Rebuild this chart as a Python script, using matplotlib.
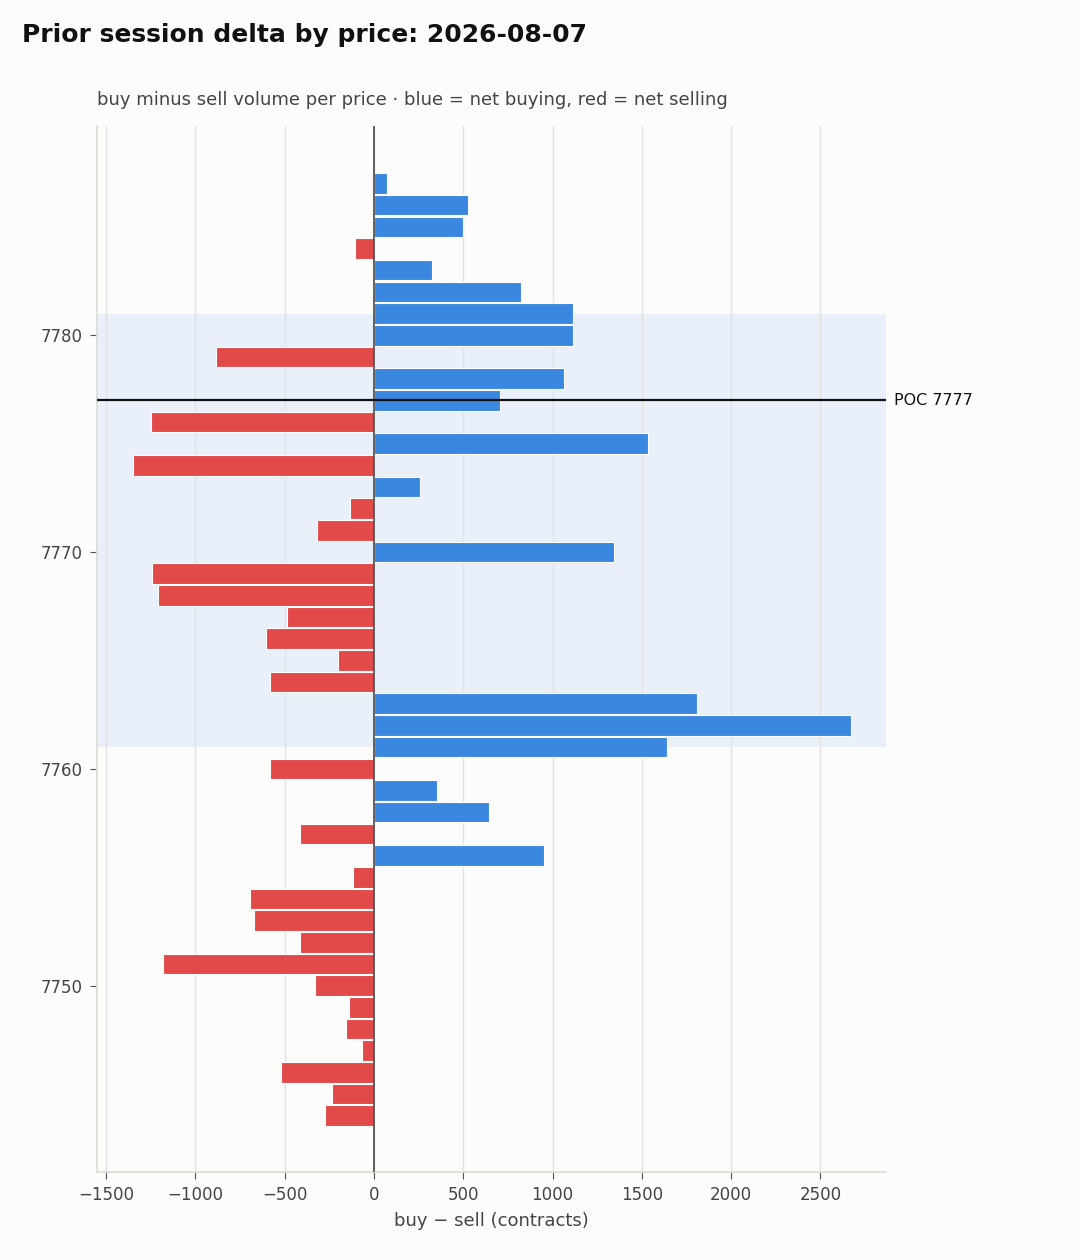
import numpy as np
import matplotlib
matplotlib.use("Agg")
import matplotlib.pyplot as plt

plt.rcParams["font.family"] = ["DejaVu Sans"]

# price levels, top to bottom
prices = list(range(7787, 7743, -1))
delta = [73, 526, 498, -106, 325, 823, 1114, 1114, -885, 1064,
         705, -1249, 1534, -1349, 258, -134, -319, 1344, -1243, -1209,
         -487, -605, -202, -582, 1808, 2671, 1641, -582, 353, 644,
         -414, 952, -118, -694, -672, -414, -1181, -330, -140, -157,
         -67, -521, -235, -274]
poc = 7777
va_low, va_high = 7761, 7781

BLUE = "#3a87e0"
RED = "#e24a4a"
BG = "#fcfcfa"

fig = plt.figure(figsize=(10.8, 12.6), dpi=100, facecolor=BG)
ax = fig.add_axes([0.0898, 0.0698, 0.7306, 0.8302])
ax.set_facecolor(BG)

colors = [BLUE if d >= 0 else RED for d in delta]
ax.axhspan(va_low, va_high, color="#dbe7fb", alpha=0.55, lw=0, zorder=0)
ax.barh(prices, delta, height=0.95, color=colors, edgecolor="white", linewidth=0.8, zorder=2)
ax.axvline(0, color="#555555", lw=1.3, zorder=3)
ax.axhline(poc, color="#111111", lw=1.6, zorder=4)
ax.text(1.01, poc, f"POC {poc}", transform=ax.get_yaxis_transform(), va="center", ha="left",
        fontsize=11.5, color="#111111")

ax.set_xlim(-1551, 2867)
ax.set_ylim(7741.4, 7789.65)
ax.set_xticks([-1500, -1000, -500, 0, 500, 1000, 1500, 2000, 2500])
ax.set_yticks([7750, 7760, 7770, 7780])
ax.xaxis.grid(True, color="#e2e2e0", lw=1, zorder=0)
ax.set_axisbelow(True)
for s in ["top", "right"]:
    ax.spines[s].set_visible(False)
for s in ["left", "bottom"]:
    ax.spines[s].set_color("#dcdcd6")
    ax.spines[s].set_linewidth(1.2)
ax.tick_params(colors="#444444", labelsize=12, length=5, pad=5)
ax.tick_params(axis="both", color="#555555")
ax.set_xlabel("buy \u2212 sell (contracts)", fontsize=13, color="#444444", labelpad=6)

fig.text(0.0204, 0.972, "Prior session delta by price: 2026-08-07", fontsize=18,
         fontweight="bold", va="center", ha="left", color="#111111")
fig.text(0.0898, 0.921, "buy minus sell volume per price \u00b7 blue = net buying, red = net selling",
         fontsize=13, va="center", ha="left", color="#444444")

fig.savefig("out.png", dpi=100, facecolor=BG)
